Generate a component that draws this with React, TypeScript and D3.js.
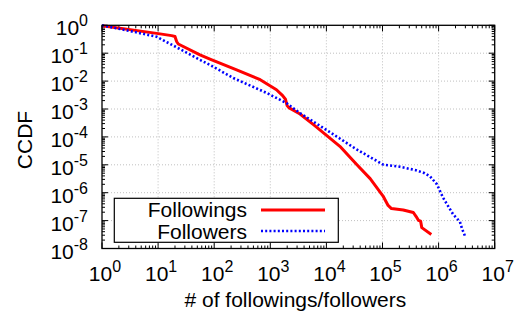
import React from "react";
import * as d3 from "d3";

const followingsX = [1, 9.44, 17.4, 20, 21.4, 22.9, 55.8, 84, 251, 661, 1288, 1660, 1862, 1995, 2138, 3388, 5888, 17378, 34674, 60256, 102329, 125893, 144544, 234423, 354813, 398107, 436516, 478630, 501187, 741310];
const followingsY = [0.955, 0.513, 0.427, 0.398, 0.263, 0.214, 0.0871, 0.0617, 0.0251, 0.0112, 0.0049, 0.003, 0.00224, 0.00132, 0.00112, 6.6e-4, 2.75e-4, 4.6e-5, 1.02e-5, 3.2e-6, 7.6e-7, 3.5e-7, 2.7e-7, 2.4e-7, 1.95e-7, 1.4e-7, 1.02e-7, 9.5e-8, 5.6e-8, 3.2e-8];

const followersX = [1, 3.61, 9.44, 21.4, 55.8, 84.1, 219, 871, 1950, 3388, 10000, 34674, 63096, 102329, 204174, 407380, 562341, 707946, 933254, 1202264, 1819701, 2398833, 2630268, 2951209];
const followersY = [1, 0.589, 0.389, 0.162, 0.0575, 0.038, 0.0129, 0.00372, 0.00162, 7.1e-4, 1.78e-4, 3.55e-5, 1.78e-5, 1.02e-5, 8.5e-6, 6.3e-6, 5.0e-6, 3.8e-6, 2.0e-6, 6.6e-7, 1.66e-7, 9.1e-8, 5.0e-8, 2.8e-8];

const xExponents = [0, 1, 2, 3, 4, 5, 6, 7];
const yExponents = [0, -1, -2, -3, -4, -5, -6, -7, -8];
const seriesNames = ["Followings", "Followers"];
const xLabel = "# of followings/followers";
const yLabel = "CCDF";

const W = 516, H = 315;
const L = 102, R = 494.7, T = 25.3, B = 248.5;
const FONT = "'Liberation Sans', Arial, Helvetica, sans-serif";

export default function App() {
  const x = d3.scaleLog().domain([1, 1e7]).range([L, R]);
  const y = d3.scaleLog().domain([1e-8, 1]).range([B, T]);

  const line = d3.line<[number, number]>().x(d => x(d[0])).y(d => y(d[1]));
  const redPts = followingsX.map((v, i) => [v, followingsY[i]] as [number, number]);
  const bluePts = followersX.map((v, i) => [v, followersY[i]] as [number, number]);

  const xMinor: number[] = [];
  for (let e = 0; e < 7; e++) for (let k = 2; k <= 9; k++) xMinor.push(k * Math.pow(10, e));
  const yMinor: number[] = [];
  for (let e = -8; e < 0; e++) for (let k = 2; k <= 9; k++) yMinor.push(k * Math.pow(10, e));

  const major = 6, minor = 3;

  return (
    <svg width={W} height={H} style={{ position: "absolute", left: 0, top: 0, background: "#fff" }} fontFamily={FONT}>
      <rect width={W} height={H} fill="#fff" />
      {/* grid */}
      {xExponents.slice(1, -1).map(e => (
        <line key={"gx" + e} x1={x(Math.pow(10, e))} x2={x(Math.pow(10, e))} y1={T} y2={B} stroke="#b0b0b0" strokeWidth={0.8} strokeDasharray="1,2" />
      ))}
      {yExponents.slice(1, -1).map(e => (
        <line key={"gy" + e} y1={y(Math.pow(10, e))} y2={y(Math.pow(10, e))} x1={L} x2={R} stroke="#b0b0b0" strokeWidth={0.8} strokeDasharray="1,2" />
      ))}
      {/* ticks */}
      {xExponents.map(e => {
        const px = x(Math.pow(10, e));
        return (
          <g key={"tx" + e}>
            <line x1={px} x2={px} y1={B} y2={B - major} stroke="#000" />
            <line x1={px} x2={px} y1={T} y2={T + major} stroke="#000" />
          </g>
        );
      })}
      {xMinor.map((v, i) => {
        const px = x(v);
        return (
          <g key={"mx" + i}>
            <line x1={px} x2={px} y1={B} y2={B - minor} stroke="#000" />
            <line x1={px} x2={px} y1={T} y2={T + minor} stroke="#000" />
          </g>
        );
      })}
      {yExponents.map(e => {
        const py = y(Math.pow(10, e));
        return (
          <g key={"ty" + e}>
            <line y1={py} y2={py} x1={L} x2={L + major} stroke="#000" />
            <line y1={py} y2={py} x1={R} x2={R - major} stroke="#000" />
          </g>
        );
      })}
      {yMinor.map((v, i) => {
        const py = y(v);
        return (
          <g key={"my" + i}>
            <line y1={py} y2={py} x1={L} x2={L + minor} stroke="#000" />
            <line y1={py} y2={py} x1={R} x2={R - minor} stroke="#000" />
          </g>
        );
      })}
      {/* series */}
      <path d={line(redPts) || ""} fill="none" stroke="#ff0000" strokeWidth={3} strokeLinejoin="round" />
      <path d={line(bluePts) || ""} fill="none" stroke="#0000ff" strokeWidth={2.6} strokeDasharray="2,2.2" />
      {/* frame */}
      <rect x={L} y={T} width={R - L} height={B - T} fill="none" stroke="#000" strokeWidth={1.3} />
      {/* tick labels */}
      {xExponents.map(e => (
        <text key={"lx" + e} x={x(Math.pow(10, e)) + 3} y={281} textAnchor="middle" fontSize={21} fill="#000">
          <tspan>10</tspan>
          <tspan dy={-9} fontSize={16}>{e}</tspan>
        </text>
      ))}
      {yExponents.map(e => (
        <text key={"ly" + e} x={88} y={y(Math.pow(10, e)) + 10} textAnchor="end" fontSize={21} fill="#000">
          <tspan>10</tspan>
          <tspan dy={-9} fontSize={16}>{e}</tspan>
        </text>
      ))}
      {/* axis labels */}
      <text x={(L + R) / 2 - 3} y={307} textAnchor="middle" fontSize={21} fill="#000">{xLabel}</text>
      <text transform={`translate(31.5,${140}) rotate(-90)`} textAnchor="middle" fontSize={21} fill="#000">{yLabel}</text>
      {/* legend */}
      <rect x={114.3} y={198.3} width={224} height={44} fill="#fff" stroke="#000" strokeWidth={1.2} />
      <text x={247} y={216.5} textAnchor="end" fontSize={21} fill="#000">{seriesNames[0]}</text>
      <text x={247} y={238.5} textAnchor="end" fontSize={21} fill="#000">{seriesNames[1]}</text>
      <line x1={261} x2={325} y1={210} y2={210} stroke="#ff0000" strokeWidth={3} />
      <line x1={261} x2={325} y1={231} y2={231} stroke="#0000ff" strokeWidth={2.6} strokeDasharray="2,2.2" />
    </svg>
  );
}
